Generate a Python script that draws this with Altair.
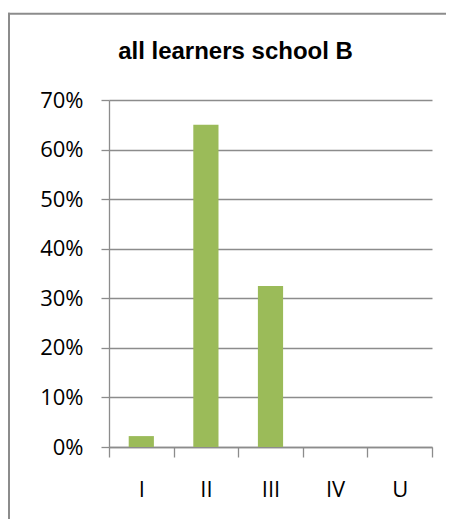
import altair as alt
import pandas as pd

categories = ["I", "II", "III", "IV", "U"]
shares = [0.022, 0.65, 0.325, 0.0, 0.0]

df = pd.DataFrame({"grade": categories, "share": shares})

GRAY = "#8c8c8c"

bars = alt.Chart(df).mark_bar(
    color="#9BBB59", width=alt.RelativeBandSize(0.39)
).encode(
    x=alt.X("grade:N", sort=categories,
            scale=alt.Scale(paddingInner=0, paddingOuter=0),
            axis=alt.Axis(title=None, labelAngle=0, tickBand="extent",
                          grid=False, tickSize=10, labelPadding=22)),
    y=alt.Y("share:Q",
            scale=alt.Scale(domain=[0, 0.7], nice=False),
            axis=alt.Axis(title=None, format=".0%", values=[0, 0.1, 0.2, 0.3, 0.4, 0.5, 0.6, 0.7],
                          tickSize=8, labelPadding=18, grid=True)),
)

one = pd.DataFrame({"k": [0]})
frame_top = alt.Chart(one).mark_rule(color=GRAY, strokeWidth=2).encode(
    x=alt.value(-101), x2=alt.value(400), y=alt.value(-86.3),
)
frame_left = alt.Chart(one).mark_rule(color=GRAY, strokeWidth=2).encode(
    x=alt.value(-100), y=alt.value(-87.3), y2=alt.value(500),
)

chart = alt.layer(frame_top, frame_left, bars).properties(
    width=323, height=347,
    padding={"left": 101, "top": 92, "right": 14, "bottom": 72},
    autosize=alt.AutoSizeParams(type="none"),
    title=alt.TitleParams("all learners school B", font="Liberation Sans", fontSize=24,
                          fontWeight="bold", color="#000000", anchor="middle",
                          dx=-35, offset=-71, baseline="alphabetic"),
).configure_view(stroke=None).configure_axis(
    domainColor=GRAY, tickColor=GRAY, gridColor=GRAY, gridOpacity=1,
    domainWidth=1.3, tickWidth=1.3, gridWidth=1.3,
    labelFont="Open Sans", labelFontSize=22, labelColor="#000000",
)

chart.save("out.html", embed_options={"renderer": "svg", "actions": False})
